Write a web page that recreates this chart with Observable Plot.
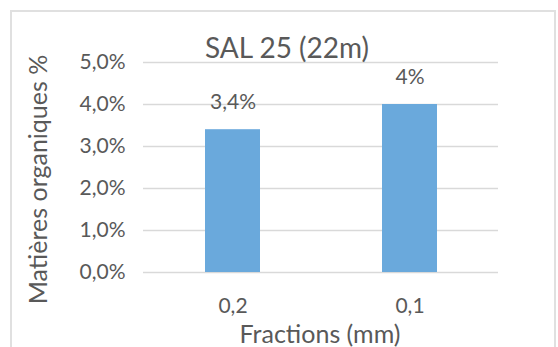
<!DOCTYPE html>
<html>
<head>
<meta charset="utf-8">
<script src="https://cdn.jsdelivr.net/npm/d3@7"></script>
<script src="https://cdn.jsdelivr.net/npm/@observablehq/plot@0.6"></script>
<style>
  html, body { margin: 0; padding: 0; background: #fff; overflow: hidden; }
  #wrap { position: relative; width: 558px; height: 347px; }
  #frame { position: absolute; left: 10px; top: 10px; width: 546px; height: 400px; border: 2px solid #e0e0e0; box-sizing: border-box; pointer-events: none; }
  #chart { position: absolute; left: 0; top: 0; }
</style>
</head>
<body>
<div id="wrap"><div id="chart"></div><div id="frame"></div></div>
<script>
const title = "SAL 25 (22m)";
const yLabel = "Matières organiques %";
const xLabel = "Fractions (mm)";
const categories = ["0,2", "0,1"];
const values = [0.034, 0.04];
const valueLabels = ["3,4%", "4%"];
const yTicks = [0, 0.01, 0.02, 0.03, 0.04, 0.05];

const data = categories.map((c, i) => ({cat: c, v: values[i], lab: valueLabels[i]}));
const fmt = d => (d * 100).toFixed(1).replace(".", ",") + "%";
const textColor = "#595959";

const chart = Plot.plot({
  width: 558,
  height: 347,
  marginLeft: 143,
  marginRight: 60,
  marginTop: 62,
  marginBottom: 75,
  style: {fontFamily: "Lato, sans-serif", fontSize: "21px", color: textColor, background: "transparent"},
  x: {domain: categories, paddingInner: 0.69, paddingOuter: 0.345, label: null, tickSize: 0, tickPadding: 26},
  y: {domain: [0, 0.05], ticks: yTicks, tickFormat: fmt, label: null, tickSize: 0, tickPadding: 18},
  marks: [
    Plot.gridY(yTicks, {stroke: "#d9d9d9", strokeOpacity: 1, strokeWidth: 1.5}),
    Plot.barY(data, {x: "cat", y: "v", fill: "#6aa9dc"}),
    Plot.text(data, {x: "cat", y: "v", text: "lab", dy: -27, fill: textColor, fontSize: 21}),
    Plot.text([title], {frameAnchor: "top", lineAnchor: "middle", dy: -13, dx: -34, fontSize: 28, fill: textColor}),
    Plot.text([xLabel], {frameAnchor: "bottom", lineAnchor: "middle", dy: 62, dx: -1, fontSize: 25, fill: textColor}),
    Plot.text([yLabel], {frameAnchor: "left", textAnchor: "middle", lineAnchor: "middle", dx: -105, dy: 12, rotate: -90, fontSize: 25, fill: textColor})
  ]
});
document.getElementById("chart").appendChild(chart);
</script>
</body>
</html>
